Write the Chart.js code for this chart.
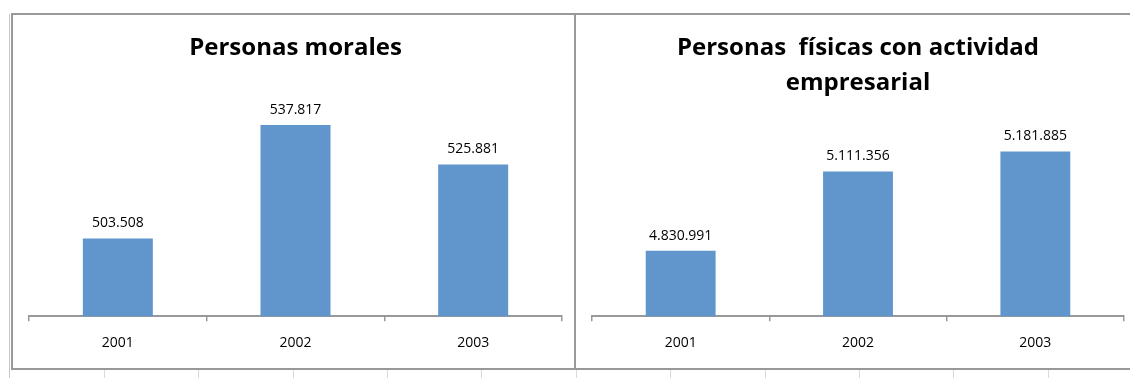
<!DOCTYPE html>
<html>
<head>
<meta charset="utf-8">
<script src="https://cdn.jsdelivr.net/npm/chart.js@4.4.0/dist/chart.umd.min.js"></script>
<style>
  html, body { margin: 0; padding: 0; background: #fff; }
  body { width: 1130px; height: 378px; overflow: hidden; position: relative; }
  .panel { position: absolute; top: 13px; width: 565px; height: 357px; border: 2px solid #999; box-sizing: border-box; background: #fff; }
  .sheet-line { position: absolute; width: 1px; background: #d3dae6; }
</style>
</head>
<body>
<div class="panel" id="panelLeft" style="left:11px"><canvas id="chartMorales" width="561" height="353"></canvas></div>
<div class="panel" id="panelRight" style="left:574px"><canvas id="chartFisicas" width="561" height="353"></canvas></div>

<script>
const years = ['2001', '2002', '2003'];
const moralesValues = [503508, 537817, 525881];
const fisicasValues = [4830991, 5111356, 5181885];
const moralesRange = [480000, 540000];
const fisicasRange = [4600000, 5300000];
const moralesTitle = 'Personas morales';
const fisicasTitle = ['Personas  físicas con actividad', 'empresarial'];

const barColor = '#6096CB';
const axisColor = '#999999';
const fontFamily = '"Open Sans", "Noto Sans", sans-serif';

// thousands with a dot, like the source sheet
function formatNumber(v) {
    return String(v).replace(/\B(?=(\d{3})+(?!\d))/g, '.');
}

const valueLabels = {
    id: 'valueLabels',
    afterDatasetsDraw(chart) {
        const ctx = chart.ctx;
        const meta = chart.getDatasetMeta(0);
        const data = chart.data.datasets[0].data;
        ctx.save();
        ctx.font = '14px ' + fontFamily;
        ctx.fillStyle = '#000';
        ctx.textAlign = 'center';
        ctx.textBaseline = 'alphabetic';
        meta.data.forEach(function (bar, i) {
            ctx.fillText(formatNumber(data[i]), bar.x, bar.y - 11);
        });
        ctx.restore();
    }
};

function makeChart(id, title, values, range, titleFont, titlePadding, padRight) {
    const ctx = document.getElementById(id).getContext('2d');
    return new Chart(ctx, {
        type: 'bar',
        data: {
            labels: years,
            datasets: [{
                data: values,
                backgroundColor: barColor,
                borderWidth: 0,
                barPercentage: 0.394,
                categoryPercentage: 1
            }]
        },
        options: {
            responsive: false,
            animation: false,
            layout: { padding: { left: 16, right: padRight, top: 0, bottom: 4 } },
            plugins: {
                legend: { display: false },
                tooltip: { enabled: false },
                title: {
                    display: true,
                    text: title,
                    color: '#000',
                    font: titleFont,
                    padding: titlePadding
                }
            },
            scales: {
                x: {
                    grid: { display: true, drawOnChartArea: false, tickLength: 5, color: axisColor, lineWidth: 1.5, offset: true },
                    border: { display: true, color: axisColor, width: 2 },
                    ticks: { color: '#000', font: { family: fontFamily, size: 14 }, padding: 13 }
                },
                y: {
                    display: false,
                    min: range[0],
                    max: range[1]
                }
            }
        },
        plugins: [valueLabels]
    });
}

document.addEventListener('DOMContentLoaded', function () {
    // faint worksheet gridlines around the charts
    const sheetXs = [104, 198, 293, 387, 481, 576, 670, 765, 859, 953, 1048];
    sheetXs.forEach(function (x) {
        const d = document.createElement('div');
        d.className = 'sheet-line';
        d.style.left = x + 'px';
        d.style.top = '370px';
        d.style.height = '8px';
        document.body.appendChild(d);
    });
    const edge = document.createElement('div');
    edge.className = 'sheet-line';
    edge.style.left = '9px';
    edge.style.top = '14px';
    edge.style.height = '364px';
    edge.style.background = '#c8c8c8';
    document.body.appendChild(edge);

    try {
        makeChart('chartMorales', moralesTitle, moralesValues, moralesRange,
            { family: fontFamily, size: 24, weight: 'bold', lineHeight: 1.2 },
            { top: 19, bottom: 55 }, 12);
        makeChart('chartFisicas', fisicasTitle, fisicasValues, fisicasRange,
            { family: fontFamily, size: 24, weight: 'bold', lineHeight: 35 / 24 },
            { top: 16, bottom: 17 }, 13);
    } catch (err) {
        console.error('Chart error:', err);
    }
});
</script>
</body>
</html>
